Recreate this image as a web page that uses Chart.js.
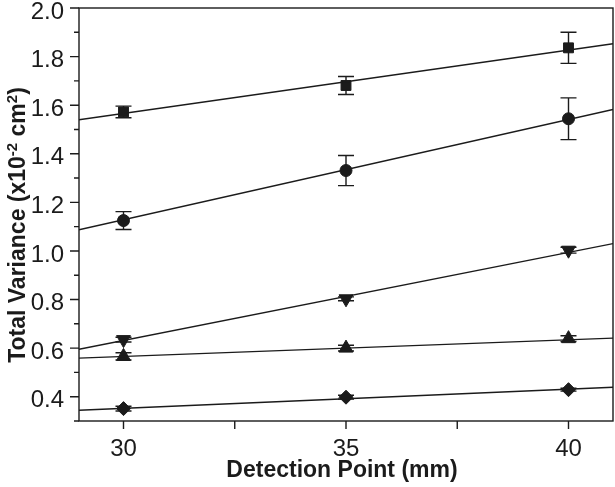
<!DOCTYPE html>
<html>
<head>
<meta charset="utf-8">
<script src="https://cdn.jsdelivr.net/npm/chart.js@4.4.0/dist/chart.umd.min.js"></script>
<style>
  body { margin: 0; background: #fff; }
  #wrap { width: 615px; height: 487px; }
</style>
</head>
<body>
<div id="wrap"><canvas id="chart" width="615" height="487"></canvas></div>
<script>
// detection points (mm)
const xs = [30, 35, 40];

// measured total variance (x10^-2 cm^2) with error bar half-widths
const squareVals = [1.572, 1.681, 1.836];
const squareErr = [0.024, 0.037, 0.064];
const circleVals = [1.125, 1.331, 1.544];
const circleErr = [0.037, 0.062, 0.086];
const downVals = [0.635, 0.803, 1.003];
const downErr = [0.010, 0.008, 0.012];
const upVals = [0.566, 0.600, 0.639];
const upErr = [0.015, 0.012, 0.012];
const diamondVals = [0.351, 0.398, 0.429];
const diamondErr = [0.010, 0.008, 0.006];

// fitted lines, read at the two plot edges
const fitX = [29, 41];
const squareFit = [1.540, 1.853];
const circleFit = [1.087, 1.582];
const downFit = [0.595, 1.030];
const upFit = [0.559, 0.641];
const diamondFit = [0.344, 0.439];

// axis ticks
const xMajor = [30, 35, 40];
const xMinor = [32.5, 37.5];
const yMajor = [0.4, 0.6, 0.8, 1.0, 1.2, 1.4, 1.6, 1.8, 2.0];
const yMinor = [0.3, 0.5, 0.7, 0.9, 1.1, 1.3, 1.5, 1.7, 1.9];

const ink = '#1b1b1b';
const font = '"Liberation Sans", Arial, Helvetica, sans-serif';

function pts(vals) {
  return vals.map((v, i) => ({ x: xs[i], y: v }));
}
function fitPts(vals) {
  return vals.map((v, i) => ({ x: fitX[i], y: v }));
}

function markerSet(vals, err, style, radius, rotation) {
  return {
    data: pts(vals),
    err: err,
    showLine: false,
    pointStyle: style,
    pointRadius: radius,
    pointRotation: rotation || 0,
    backgroundColor: ink,
    borderColor: ink,
    borderWidth: 1,
  };
}
function fitSet(vals) {
  return {
    data: fitPts(vals),
    showLine: true,
    pointRadius: 0,
    borderColor: ink,
    borderWidth: 1.4,
    fill: false,
  };
}

// error bars, frame, ticks, x labels and titles
const decor = {
  id: 'decor',
  beforeDatasetsDraw(chart) {
    const ctx = chart.ctx;
    const xS = chart.scales.x, yS = chart.scales.y;
    ctx.save();
    ctx.strokeStyle = ink;
    ctx.lineWidth = 1.4;
    chart.data.datasets.forEach(ds => {
      if (!ds.err) return;
      ds.data.forEach((p, i) => {
        const px = xS.getPixelForValue(p.x);
        const top = yS.getPixelForValue(p.y + ds.err[i]);
        const bot = yS.getPixelForValue(p.y - ds.err[i]);
        ctx.beginPath();
        ctx.moveTo(px, top); ctx.lineTo(px, bot);
        ctx.moveTo(px - 8, top); ctx.lineTo(px + 8, top);
        ctx.moveTo(px - 8, bot); ctx.lineTo(px + 8, bot);
        ctx.stroke();
      });
    });
    ctx.restore();
  },
  afterDraw(chart) {
    const ctx = chart.ctx;
    const a = chart.chartArea;
    const xS = chart.scales.x, yS = chart.scales.y;
    ctx.save();
    ctx.strokeStyle = ink;
    ctx.lineWidth = 1.4;
    ctx.strokeRect(a.left, a.top, a.right - a.left, a.bottom - a.top);
    ctx.beginPath();
    yMajor.forEach(v => {
      const y = yS.getPixelForValue(v);
      ctx.moveTo(a.left - 9, y); ctx.lineTo(a.left, y);
    });
    yMinor.forEach(v => {
      const y = yS.getPixelForValue(v);
      ctx.moveTo(a.left - 5, y); ctx.lineTo(a.left, y);
    });
    xMajor.concat(xMinor).forEach(v => {
      const x = xS.getPixelForValue(v);
      ctx.moveTo(x, a.bottom); ctx.lineTo(x, a.bottom + 8);
    });
    ctx.stroke();

    ctx.fillStyle = ink;
    ctx.textAlign = 'center';
    ctx.textBaseline = 'middle';

    // x tick labels
    ctx.font = '24px ' + font;
    xMajor.forEach(v => {
      ctx.fillText(String(v), xS.getPixelForValue(v), a.bottom + 28);
    });

    // x title
    ctx.font = 'bold 23px ' + font;
    ctx.fillText('Detection Point (mm)', 342, 471);

    // y title with superscripts
    const parts = [
      ['Total Variance (x10', false],
      ['-2', true],
      [' cm', false],
      ['2', true],
      [')', false],
    ];
    const big = 'bold 23px ' + font, small = 'bold 15px ' + font;
    let total = 0;
    parts.forEach(p => { ctx.font = p[1] ? small : big; total += ctx.measureText(p[0]).width; });
    ctx.translate(16, 225);
    ctx.rotate(-Math.PI / 2);
    ctx.textAlign = 'left';
    ctx.textBaseline = 'alphabetic';
    let cx = -total / 2;
    parts.forEach(p => {
      ctx.font = p[1] ? small : big;
      ctx.fillText(p[0], cx, p[1] ? 1 : 9);
      cx += ctx.measureText(p[0]).width;
    });
    ctx.restore();
  }
};

new Chart(document.getElementById('chart'), {
  type: 'scatter',
  data: {
    datasets: [
      fitSet(squareFit),
      fitSet(circleFit),
      fitSet(downFit),
      fitSet(upFit),
      fitSet(diamondFit),
      markerSet(squareVals, squareErr, 'rect', 7),
      markerSet(circleVals, circleErr, 'circle', 6),
      markerSet(downVals, downErr, 'triangle', 8, 180),
      markerSet(upVals, upErr, 'triangle', 8),
      markerSet(diamondVals, diamondErr, 'rectRot', 7),
    ]
  },
  options: {
    responsive: false,
    animation: false,
    events: [],
    layout: { autoPadding: false, padding: { left: 0, top: 8, right: 2, bottom: 0 } },
    plugins: { legend: { display: false }, tooltip: { enabled: false } },
    scales: {
      x: {
        type: 'linear',
        min: 29, max: 41,
        afterBuildTicks: s => { s.ticks = xMajor.map(v => ({ value: v })); },
        afterFit: s => { s.height = 66; s.paddingLeft = 0; s.paddingRight = 0; },
        grid: { display: false, drawTicks: false },
        border: { display: false },
        ticks: { display: false },
      },
      y: {
        type: 'linear',
        min: 0.3, max: 2.0,
        afterBuildTicks: s => { s.ticks = yMajor.map(v => ({ value: v })); },
        afterFit: s => { s.width = 79; s.paddingTop = 0; s.paddingBottom = 0; },
        grid: { display: false, drawTicks: false },
        border: { display: false },
        ticks: { padding: 15, labelOffset: 4, color: ink, font: { family: font, size: 24 }, callback: v => v.toFixed(1) },
      }
    }
  },
  plugins: [decor]
});
</script>
</body>
</html>
